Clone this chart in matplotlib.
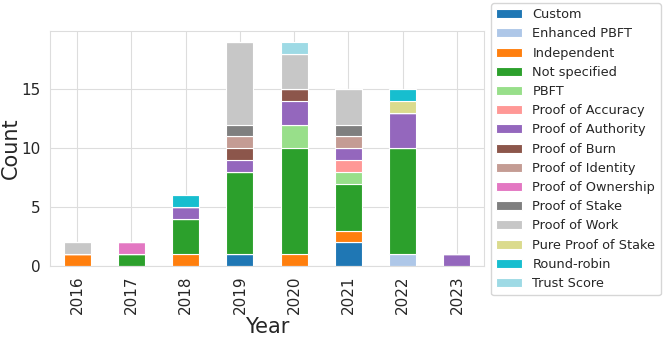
import numpy as np
import matplotlib
matplotlib.use('Agg')
import matplotlib.pyplot as plt
import seaborn as sns

sns.set_style('whitegrid')
plt.rcParams['font.family'] = ['DejaVu Sans']

years = ['2016', '2017', '2018', '2019', '2020', '2021', '2022', '2023']
mechanisms = ['Custom', 'Enhanced PBFT', 'Independent', 'Not specified', 'PBFT',
              'Proof of Accuracy', 'Proof of Authority', 'Proof of Burn',
              'Proof of Identity', 'Proof of Ownership', 'Proof of Stake',
              'Proof of Work', 'Pure Proof of Stake', 'Round-robin', 'Trust Score']
colors = ['#1f77b4', '#aec7e8', '#ff7f0e', '#2ca02c', '#98df8a', '#ff9896',
          '#9467bd', '#8c564b', '#c49c94', '#e377c2', '#7f7f7f', '#c7c7c7',
          '#dbdb8d', '#17becf', '#9edae5']

# counts per mechanism, one value per year
custom         = [0, 0, 0, 1, 0, 2, 0, 0]
enhanced_pbft  = [0, 0, 0, 0, 0, 0, 1, 0]
independent    = [1, 0, 1, 0, 1, 1, 0, 0]
not_specified  = [0, 1, 3, 7, 9, 4, 9, 0]
pbft           = [0, 0, 0, 0, 2, 1, 0, 0]
proof_accuracy = [0, 0, 0, 0, 0, 1, 0, 0]
proof_authority= [0, 0, 1, 1, 2, 1, 3, 1]
proof_burn     = [0, 0, 0, 1, 1, 0, 0, 0]
proof_identity = [0, 0, 0, 1, 0, 1, 0, 0]
proof_owner    = [0, 1, 0, 0, 0, 0, 0, 0]
proof_stake    = [0, 0, 0, 1, 0, 1, 0, 0]
proof_work     = [1, 0, 0, 7, 3, 3, 0, 0]
pure_pos       = [0, 0, 0, 0, 0, 0, 1, 0]
round_robin    = [0, 0, 1, 0, 0, 0, 1, 0]
trust_score    = [0, 0, 0, 0, 1, 0, 0, 0]

series = [custom, enhanced_pbft, independent, not_specified, pbft, proof_accuracy,
          proof_authority, proof_burn, proof_identity, proof_owner, proof_stake,
          proof_work, pure_pos, round_robin, trust_score]

fig = plt.figure(figsize=(6.64, 3.4), dpi=100)
ax = fig.add_axes([50/664, 1 - 266/340, (484 - 50)/664, (266 - 31)/340])

x = np.arange(len(years))
bottom = np.zeros(len(years))
for name, vals, col in zip(mechanisms, series, colors):
    vals = np.array(vals, dtype=float)
    ax.bar(x, vals, width=0.5, bottom=bottom, color=col, label=name,
           edgecolor='white', linewidth=0.8)
    bottom += vals

ax.set_xlim(-0.5, len(years) - 0.5)
ax.set_ylim(0, bottom.max() * 1.05)
ax.set_xticks(x)
ax.set_xticklabels(years, rotation=90)
ax.set_yticks([0, 5, 10, 15])
ax.tick_params(labelsize=11)
ax.set_xlabel('Year', fontsize=15, labelpad=2)
ax.set_ylabel('Count', fontsize=15, labelpad=0)
ax.grid(True, color='#dddddd')
for s in ax.spines.values():
    s.set_color('#dddddd')

ax.legend(loc='upper left', bbox_to_anchor=(491/664, 1 - 3/340),
          bbox_transform=fig.transFigure, fontsize=9.3,
          borderaxespad=0, labelspacing=0.48, handlelength=2.0)

fig.savefig('out.png', dpi=100)
